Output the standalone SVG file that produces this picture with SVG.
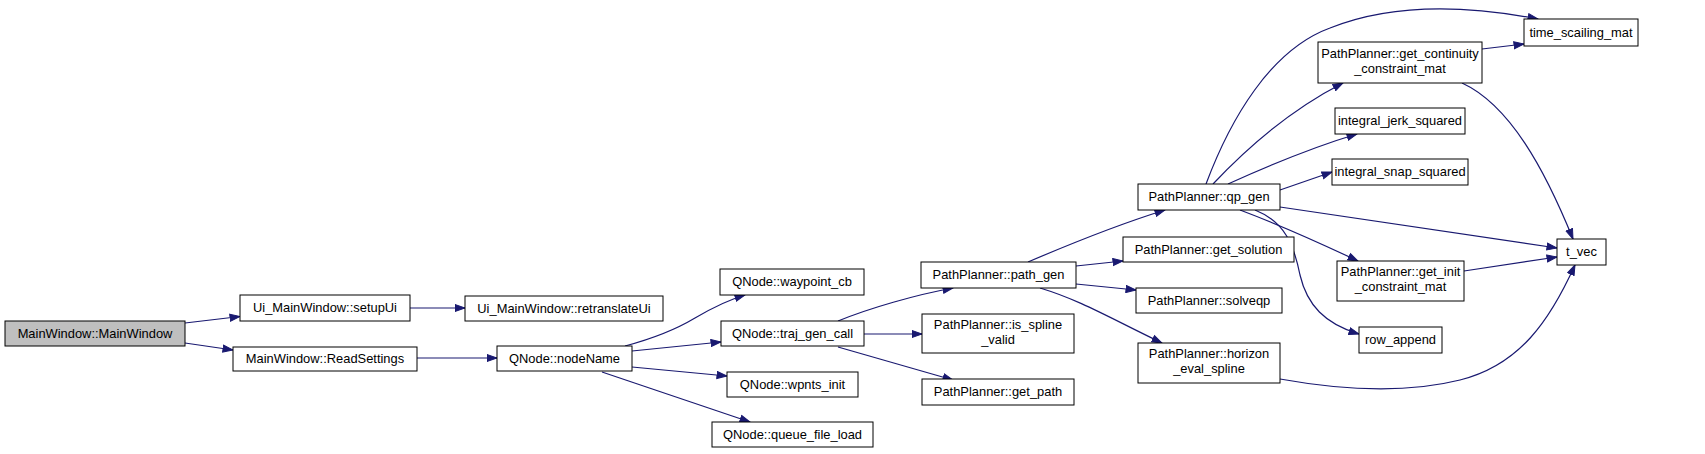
<svg xmlns="http://www.w3.org/2000/svg" width="1705" height="454" viewBox="0 0 1705 454">
<style>
.n rect{fill:#fff;stroke:#000;stroke-width:1}
.n text{font-family:"Liberation Sans",Arial,sans-serif;font-size:12.9px;fill:#000;text-anchor:middle}
#n0 rect{fill:#bfbfbf}
.e path{fill:none;stroke:#191970;stroke-width:1.2}
</style>
<defs>
<marker id="a" markerWidth="11" markerHeight="9" refX="10.5" refY="4.5" orient="auto" markerUnits="userSpaceOnUse"><path d="M0.5,1 L10.5,4.5 L0.5,8 z" fill="#191970" stroke="#191970"/></marker>
</defs>
<rect width="1705" height="454" fill="#fff"/>
<g class="e">
<path d="M185,323 L240,316.5" marker-end="url(#a)"/>
<path d="M185,343 L233,350" marker-end="url(#a)"/>
<path d="M410,308 L465,308" marker-end="url(#a)"/>
<path d="M417,358 L497,358" marker-end="url(#a)"/>
<path d="M625,346 C655,338 675,330 695,318 C712,308 728,300 745,295" marker-end="url(#a)"/>
<path d="M632,351 L721,342" marker-end="url(#a)"/>
<path d="M632,367 L727,376" marker-end="url(#a)"/>
<path d="M602,372 L750,422" marker-end="url(#a)"/>
<path d="M838,321 C870,308 915,295 953,288" marker-end="url(#a)"/>
<path d="M864,334 L922,334" marker-end="url(#a)"/>
<path d="M838,347 L953,380" marker-end="url(#a)"/>
<path d="M1028,262 C1070,244 1120,224 1165,210" marker-end="url(#a)"/>
<path d="M1076,266 L1123,261" marker-end="url(#a)"/>
<path d="M1076,284 L1136,290" marker-end="url(#a)"/>
<path d="M1040,288 C1080,300 1110,318 1162,343" marker-end="url(#a)"/>
<path d="M1206,184 C1230,120 1270,50 1330,28 C1390,4 1460,4 1538,19" marker-end="url(#a)"/>
<path d="M1213,184 C1245,150 1290,110 1343,83" marker-end="url(#a)"/>
<path d="M1228,184 C1270,165 1310,148 1357,134" marker-end="url(#a)"/>
<path d="M1280,190 L1332,172" marker-end="url(#a)"/>
<path d="M1482,49 L1524,44" marker-end="url(#a)"/>
<path d="M1462,83 C1510,105 1545,170 1573,239" marker-end="url(#a)"/>
<path d="M1280,207 L1557,248" marker-end="url(#a)"/>
<path d="M1240,210 C1280,225 1320,243 1358,261" marker-end="url(#a)"/>
<path d="M1255,210 C1285,222 1294,245 1300,275 C1307,305 1325,324 1359,334" marker-end="url(#a)"/>
<path d="M1464,271 L1557,257" marker-end="url(#a)"/>
<path d="M1280,379 C1330,388 1400,395 1460,380 C1520,365 1550,320 1575,265" marker-end="url(#a)"/>
</g>
<g id="n0" class="n"><rect x="5" y="321" width="180" height="25"/><text x="95" y="338">MainWindow::MainWindow</text></g>
<g id="n1" class="n"><rect x="240" y="295" width="170" height="26"/><text x="325" y="312">Ui_MainWindow::setupUi</text></g>
<g id="n2" class="n"><rect x="233" y="347" width="184" height="24"/><text x="325" y="363">MainWindow::ReadSettings</text></g>
<g id="n3" class="n"><rect x="465" y="296" width="198" height="25"/><text x="564" y="313">Ui_MainWindow::retranslateUi</text></g>
<g id="n4" class="n"><rect x="497" y="346" width="135" height="25"/><text x="564.5" y="363">QNode::nodeName</text></g>
<g id="n5" class="n"><rect x="720" y="269" width="144" height="26"/><text x="792" y="286">QNode::waypoint_cb</text></g>
<g id="n6" class="n"><rect x="721" y="321" width="143" height="25"/><text x="792.5" y="338">QNode::traj_gen_call</text></g>
<g id="n7" class="n"><rect x="727" y="372" width="131" height="25"/><text x="792.5" y="389">QNode::wpnts_init</text></g>
<g id="n8" class="n"><rect x="712" y="422" width="161" height="25"/><text x="792.5" y="439">QNode::queue_file_load</text></g>
<g id="n9" class="n"><rect x="921" y="262" width="155" height="26"/><text x="998.5" y="279">PathPlanner::path_gen</text></g>
<g id="n10" class="n"><rect x="922" y="314" width="152" height="39"/><text x="998" y="329">PathPlanner::is_spline</text><text x="998" y="344">_valid</text></g>
<g id="n11" class="n"><rect x="922" y="379" width="152" height="26"/><text x="998" y="396">PathPlanner::get_path</text></g>
<g id="n12" class="n"><rect x="1138" y="184" width="142" height="26"/><text x="1209" y="201">PathPlanner::qp_gen</text></g>
<g id="n13" class="n"><rect x="1123" y="237" width="171" height="25"/><text x="1208.5" y="254">PathPlanner::get_solution</text></g>
<g id="n14" class="n"><rect x="1136" y="288" width="146" height="25"/><text x="1209" y="305">PathPlanner::solveqp</text></g>
<g id="n15" class="n"><rect x="1138" y="343" width="142" height="40"/><text x="1209" y="358">PathPlanner::horizon</text><text x="1209" y="373">_eval_spline</text></g>
<g id="n16" class="n"><rect x="1524" y="19" width="114" height="27"/><text x="1581" y="37">time_scailing_mat</text></g>
<g id="n17" class="n"><rect x="1318" y="42" width="164" height="41"/><text x="1400" y="58">PathPlanner::get_continuity</text><text x="1400" y="73">_constraint_mat</text></g>
<g id="n18" class="n"><rect x="1335" y="108" width="130" height="26"/><text x="1400" y="125">integral_jerk_squared</text></g>
<g id="n19" class="n"><rect x="1332" y="159" width="136" height="26"/><text x="1400" y="176">integral_snap_squared</text></g>
<g id="n20" class="n"><rect x="1557" y="239" width="49" height="26"/><text x="1581.5" y="256">t_vec</text></g>
<g id="n21" class="n"><rect x="1337" y="261" width="127" height="40"/><text x="1400.5" y="276">PathPlanner::get_init</text><text x="1400.5" y="291">_constraint_mat</text></g>
<g id="n22" class="n"><rect x="1359" y="327" width="83" height="26"/><text x="1400.5" y="344">row_append</text></g>
</svg>
